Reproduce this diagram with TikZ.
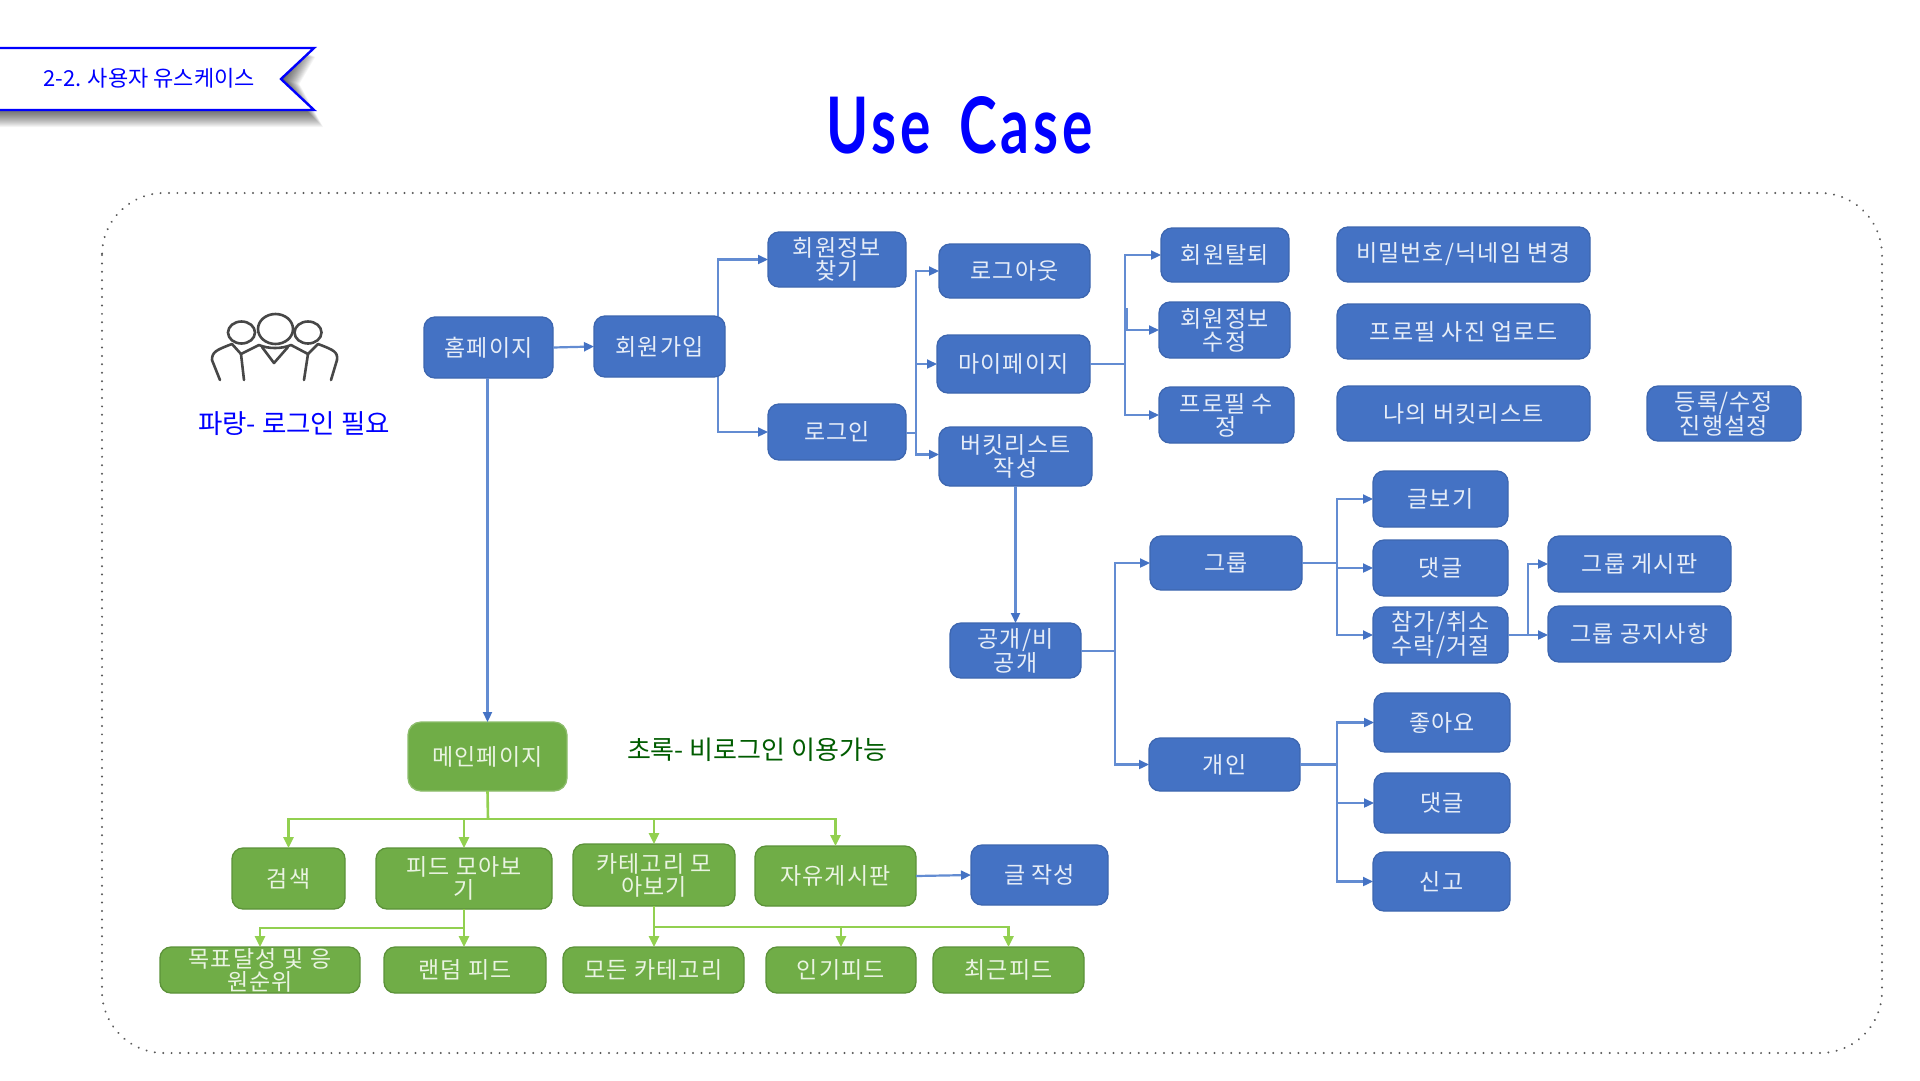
\documentclass[tikz,border=0pt]{standalone}
\usepackage{fontspec}
\usetikzlibrary{arrows.meta}
\setmainfont{Noto Sans CJK KR}
\newfontfamily\boxfont[LetterSpace=5]{Noto Sans CJK KR}
\newfontfamily\titlefont[LetterSpace=7]{Lato}
\definecolor{bfill}{HTML}{4472C4}
\definecolor{bline}{HTML}{3D66B0}
\definecolor{bconn}{HTML}{638CD2}
\definecolor{bhead}{HTML}{4472C4}
\definecolor{gfill}{HTML}{70AD47}
\definecolor{gline}{HTML}{5C9239}
\definecolor{gconn}{HTML}{92D050}
\definecolor{btext}{HTML}{E6EDF8}
\definecolor{gtext}{HTML}{EAF4E2}
\tikzset{
  basebox/.style={rounded corners=11pt,line width=1.3pt,inner sep=0pt,outer sep=0pt,align=center,
    font=\boxfont\fontsize{23}{23}\selectfont},
  bluebox/.style={basebox,fill=bfill,draw=bline,text=btext},
  greenbox/.style={basebox,fill=gfill,draw=gline,text=gtext},
  conn/.style={line width=2.2pt,draw=bconn,-{Triangle[length=10pt,width=9pt,fill=bhead,color=bhead]}},
  plain/.style={line width=2.2pt,draw=bconn},
  gconnect/.style={line width=2.6pt,draw=gconn,-{Triangle[length=11pt,width=10pt,fill=gconn,color=gconn]}},
  gplain/.style={line width=2.6pt,draw=gconn},
  person/.style={line width=2.6pt,draw=black!72,line cap=round,line join=round},
}
\newcommand{\bx}[7][]{\node[#2,minimum width={#6pt-#4pt},minimum height={#7pt-#5pt},#1] at ({(#4+#6)/2},{(#5+#7)/2}) (#3)}
\begin{document}
\begin{tikzpicture}[x=1pt,y=-1pt]
\useasboundingbox (0,0) rectangle (1920,1080);
\fill[white] (0,0) rectangle (1920,1080);

% banner
\foreach \d in {0,1,...,17}{
  \fill[black,opacity=.045] ({-10},{50+\d*.4}) -- ({300+\d*.9},{50+\d*.4}) -- ({284+\d*.9},{79+\d*.3}) -- ({306+\d},{110+\d}) -- ({-10},{110+\d}) -- cycle;
}
\draw[draw=blue,fill=white,line width=2.4pt,line join=miter] (-5,48) -- (314,48) -- (281,79) -- (314,110) -- (-5,110) -- cycle;
\node[text=blue,font=\fontsize{22}{24}\selectfont] (bannertext) at (149,78) {2-2. 사용자 유스케이스};

% title
\node[text=blue,font=\titlefont\bfseries\fontsize{78}{82}\selectfont,xscale=.73] (title) at (960,125) {Use\hspace{14pt} Case};

% dotted frame
\draw[draw=black!65,line width=2.2pt,line cap=round,dash pattern=on 0.01pt off 8.4pt,rounded corners=62pt] (102,193) rectangle (1882,1053);

% people icon
\draw[person] (241.5,332.5) ellipse (13.5 and 11);
\draw[person] (308,332.5) ellipse (13.5 and 11);
\draw[person] (275.5,329) ellipse (17.5 and 15);
\draw[person] (220,380) -- (212,360) .. controls (212,352) and (216,350) .. (232,344) -- (241,354) -- (259,345) .. controls (268,349) and (282,349) .. (291,345) -- (308,354) -- (318,344) .. controls (334,350) and (338,352) .. (337,360) -- (331,380);
\draw[person] (244,380) -- (241,354);
\draw[person] (304,380) -- (308,354);
\draw[person] (262,347) -- (274,363) -- (288,347);

% legends
\node[text=blue,font=\fontsize{26.5}{28}\selectfont] (legendblue) at (294,424) {파랑- 로그인 필요};
\node[text=black!40!green!60!black,font=\fontsize{26}{28}\selectfont] (legendgreen) at (757,750) {초록- 비로그인 이용가능};

% blue boxes
\bx{bluebox}{home}{424}{317}{553}{378} {홈페이지};
\bx{bluebox}{join}{594}{316}{725}{377} {회원가입};
\bx{bluebox}{find}{768}{232}{906}{287} {회원정보\\찾기};
\bx{bluebox}{login}{768}{404}{906}{460} {로그인};
\bx{bluebox}{logout}{939}{244}{1090}{298} {로그아웃};
\bx{bluebox}{mypage}{937}{335}{1090}{393} {마이페이지};
\bx{bluebox}{bucket}{939}{427}{1092}{486} {버킷리스트\\작성};
\bx{bluebox}{public}{950}{623}{1081}{678} {공개/비\\공개};
\bx{bluebox}{leave}{1161}{228}{1289}{282} {회원탈퇴};
\bx{bluebox}{edit}{1159}{302}{1290}{358} {회원정보\\수정};
\bx{bluebox}{profile}{1159}{387}{1294}{443} {프로필 수\\정};
\bx{bluebox}{passwd}{1337}{227}{1590}{282} {비밀번호/닉네임 변경};
\bx{bluebox}{photo}{1337}{304}{1590}{359} {프로필 사진 업로드};
\bx{bluebox}{mylist}{1337}{386}{1590}{441} {나의 버킷리스트};
\bx{bluebox}{regist}{1647}{386}{1801}{441} {등록/수정\\진행설정};
\bx{bluebox}{group}{1150}{536}{1302}{590} {그룹};
\bx{bluebox}{gread}{1373}{471}{1508}{527} {글보기};
\bx{bluebox}{gcomment}{1373}{540}{1508}{596} {댓글};
\bx{bluebox}{gjoin}{1373}{607}{1508}{663} {참가/취소\\수락/거절};
\bx{bluebox}{gboard}{1548}{536}{1731}{592} {그룹 게시판};
\bx{bluebox}{gnotice}{1548}{606}{1731}{662} {그룹 공지사항};
\bx{bluebox}{personal}{1149}{738}{1300}{791} {개인};
\bx{bluebox}{plike}{1374}{693}{1510}{752} {좋아요};
\bx{bluebox}{pcomment}{1374}{773}{1510}{833} {댓글};
\bx{bluebox}{preport}{1373}{852}{1510}{911} {신고};
\bx{bluebox}{write}{971}{845}{1108}{905} {글 작성};

% green boxes
\bx[draw=gfill!80!white,rounded corners=13pt]{greenbox}{mainpage}{408}{722}{567}{791} {메인페이지};
\bx{greenbox}{search}{232}{848}{345}{909} {검색};
\bx{greenbox}{feed}{376}{848}{552}{909} {피드 모아보\\기};
\bx{greenbox}{cat}{573}{844}{735}{906} {카테고리 모\\아보기};
\bx{greenbox}{free}{755}{846}{916}{906} {자유게시판};
\bx{greenbox}{goal}{160}{947}{360}{993} {목표달성 및 응\\원순위};
\bx{greenbox}{random}{384}{947}{546}{993} {랜덤 피드};
\bx{greenbox}{allcat}{563}{947}{744}{993} {모든 카테고리};
\bx{greenbox}{popular}{766}{947}{916}{993} {인기피드};
\bx{greenbox}{recent}{933}{947}{1084}{993} {최근피드};

% trunk coordinates
\coordinate (t0) at (487.5,378);
\coordinate (t1) at (718,316);
\coordinate (t2) at (718,377);
\coordinate (t3) at (916,432);
\coordinate (t4) at (1125,364);
\coordinate (t4b) at (1127,308);
\coordinate (t5) at (1115,651);
\coordinate (t6) at (1337,563);
\coordinate (t7) at (1528,635);
\coordinate (t8) at (1337,764.5);
\coordinate (g1) at (488,819);
\coordinate (g2) at (464,928);
\coordinate (g3) at (654,927);

% blue connectors
\draw[conn] (home.east) -- (join.west);
\draw[conn] (t1) |- (find.west);
\draw[conn] (t2) |- (login.west);
\draw[plain] ([yshift=-1pt]login.east) -- ([yshift=-1pt]t3);
\draw[conn] (t3) |- (logout.west);
\draw[conn] (t3) |- (mypage.west);
\draw[conn] (t3) |- ([yshift=2pt]bucket.west);
\draw[conn] (t0) -- (t0 |- mainpage.north);
\draw[conn] (bucket.south) -- (bucket.south |- public.north);
\draw[plain] (mypage.east) -- (t4);
\draw[conn] (t4) |- (leave.west);
\draw[conn] (t4b) |- (edit.west);
\draw[conn] (t4) |- (profile.west);
\draw[plain] (public.east |- t5) -- (t5);
\draw[conn] (t5) |- (group.west);
\draw[conn] (t5) |- (personal.west);
\draw[plain] (group.east) -- (t6);
\draw[conn] (t6) |- (gread.west);
\draw[conn] (t6) |- (gcomment.west);
\draw[conn] (t6) |- (gjoin.west);
\draw[plain] (gjoin.east) -- (t7);
\draw[conn] (t7) |- (gboard.west);
\draw[conn] (t7) -- (gnotice.west |- t7);
\draw[plain] (personal.east) -- (t8);
\draw[conn] (t8) |- (plike.west);
\draw[conn] (t8) |- (pcomment.west);
\draw[conn] (t8) |- (preport.west);
\draw[conn] (free.east) -- (write.west);

% green connectors
\draw[gplain] (mainpage.south) -- (g1);
\draw[gconnect] (g1) -| (search.north);
\draw[gconnect] (g1) -| (feed.north);
\draw[gconnect] (g1) -| (cat.north);
\draw[gconnect] (g1) -| (free.north);
\draw[gplain] (feed.south) -- (g2);
\draw[gconnect] (g2) -| (goal.north);
\draw[gconnect] (g2) -- (g2 |- random.north);
\draw[gplain] (cat.south) -- (g3);
\draw[gconnect] (g3) -- (g3 |- allcat.north);
\draw[gconnect] (g3) -| (popular.north);
\draw[gconnect] (g3) -| (recent.north);
\end{tikzpicture}
\end{document}
